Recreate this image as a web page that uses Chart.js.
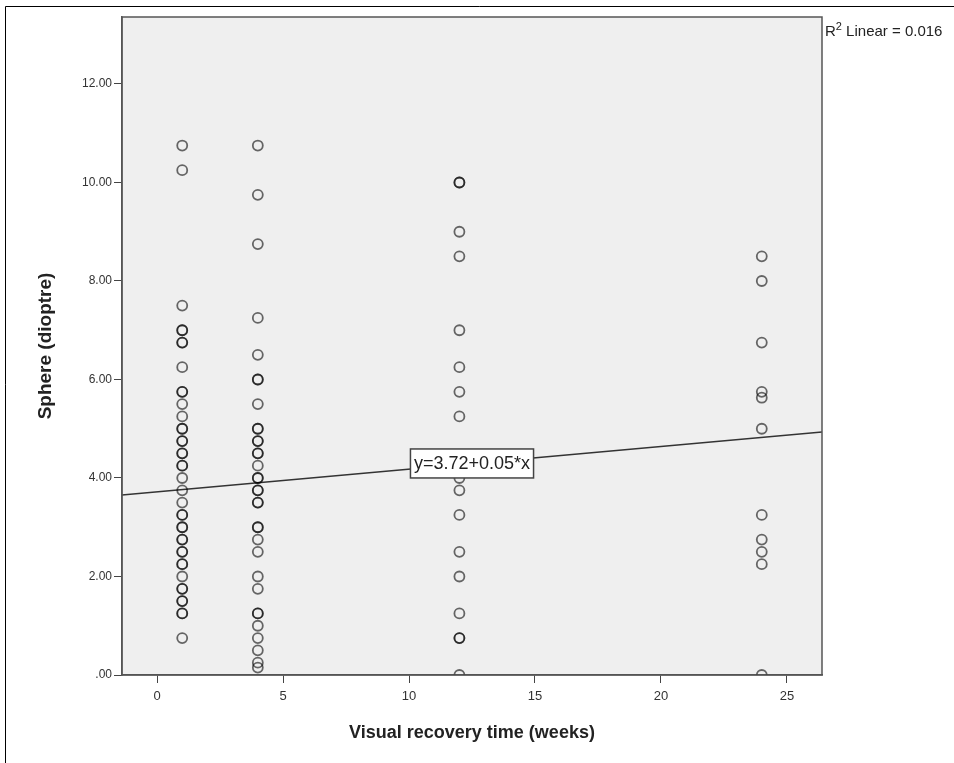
<!DOCTYPE html>
<html><head><meta charset="utf-8">
<script src="https://cdn.jsdelivr.net/npm/chart.js@4"></script>
<style>html,body{margin:0;padding:0;background:#fff;}#wrap{position:relative;width:954px;height:763px;}</style>
</head><body><div id="wrap"><canvas id="c" width="954" height="763" style="width:954px;height:763px"></canvas></div>
<script>
// Visual recovery time groups (weeks)
const weeks = [1, 4, 12, 24];
// Sphere (dioptre) values per group (duplicates = overlapping darker rings)
const sphereWeek1 = [10.75, 10.25, 7.5, 7.0, 7.0, 6.75, 6.75, 6.25, 5.75, 5.75, 5.5, 5.25, 5.0, 5.0, 4.75, 4.75, 4.5, 4.5, 4.25, 4.25, 4.0, 3.75, 3.5, 3.25, 3.25, 3.0, 3.0, 2.75, 2.75, 2.5, 2.5, 2.25, 2.25, 2.0, 1.75, 1.75, 1.5, 1.5, 1.25, 1.25, 0.75];
const sphereWeek4 = [10.75, 9.75, 8.75, 7.25, 6.5, 6.0, 6.0, 5.5, 5.0, 5.0, 4.75, 4.75, 4.5, 4.5, 4.25, 4.0, 4.0, 3.75, 3.75, 3.5, 3.5, 3.0, 3.0, 2.75, 2.5, 2.0, 1.75, 1.25, 1.25, 1.0, 0.75, 0.5, 0.25, 0.15];
const sphereWeek12 = [10.0, 10.0, 9.0, 8.5, 7.0, 6.25, 5.75, 5.25, 4.0, 3.75, 3.25, 2.5, 2.0, 1.25, 0.75, 0.75, 0.0];
const sphereWeek24 = [8.5, 8.0, 6.75, 5.75, 5.63, 5.0, 3.25, 2.75, 2.5, 2.25, 0.0];
const sphereByWeek = [sphereWeek1, sphereWeek4, sphereWeek12, sphereWeek24];

// Fit line (R2 Linear = 0.016)
const fitIntercept = 3.72;
const fitSlope = 0.046;
const fitLabel = 'y=3.72+0.05*x';
const r2Label = ' Linear = 0.016';

// Axes
const xTicks = [0, 5, 10, 15, 20, 25];
const yTicks = [0, 2, 4, 6, 8, 10, 12];
const yTickLabels = ['.00', '2.00', '4.00', '6.00', '8.00', '10.00', '12.00'];
const xMin = -1.39, xMax = 26.39, yMin = 0, yMax = 13.36;
const xTitle = 'Visual recovery time (weeks)';
const yTitle = 'Sphere (dioptre)';

const FONT = "'Liberation Sans', Arial, sans-serif";

const points = [];
weeks.forEach((w, i) => sphereByWeek[i].forEach(v => points.push({x: w, y: v})));
const fitData = [xMin, xMax].map(x => ({x: x, y: fitIntercept + fitSlope * x}));

const decor = {
  id: 'decor',
  beforeDraw(chart) {
    const {ctx, chartArea: a} = chart;
    ctx.save();
    ctx.fillStyle = '#ffffff';
    ctx.fillRect(0, 0, chart.width, chart.height);
    ctx.fillStyle = '#efefef';
    ctx.fillRect(a.left, a.top, a.right - a.left, a.bottom - a.top);
    ctx.restore();
  },
  afterDatasetsDraw(chart) {
    const {ctx, chartArea: a, scales} = chart;
    ctx.save();
    ctx.strokeStyle = '#555';
    ctx.lineWidth = 1.5;
    ctx.strokeRect(a.left, a.top, a.right - a.left, a.bottom - a.top);
    ctx.strokeStyle = '#000';
    ctx.lineWidth = 1;
    ctx.beginPath();
    ctx.moveTo(5.5, chart.height);
    ctx.lineTo(5.5, 6.5);
    ctx.lineTo(chart.width, 6.5);
    ctx.stroke();
    const cx = (a.left + a.right) / 2;
    const xv = scales.x.getValueForPixel(cx);
    const cy = scales.y.getPixelForValue(fitIntercept + fitSlope * xv);
    ctx.font = '18px ' + FONT;
    const tw = ctx.measureText(fitLabel).width;
    const bw = tw + 7, bh = 29;
    ctx.fillStyle = '#fff';
    ctx.fillRect(cx - bw / 2, cy - bh / 2, bw, bh);
    ctx.strokeStyle = '#444';
    ctx.lineWidth = 1.5;
    ctx.strokeRect(cx - bw / 2, cy - bh / 2, bw, bh);
    ctx.fillStyle = '#222';
    ctx.textAlign = 'center';
    ctx.textBaseline = 'middle';
    ctx.fillText(fitLabel, cx, cy + 1);
    ctx.textAlign = 'left';
    ctx.textBaseline = 'alphabetic';
    ctx.fillStyle = '#222';
    ctx.font = '15px ' + FONT;
    const rx = a.right + 3, ry = a.top + 19;
    ctx.fillText('R', rx, ry);
    const rw = ctx.measureText('R').width;
    ctx.font = '11px ' + FONT;
    ctx.fillText('2', rx + rw, ry - 6);
    const sw = ctx.measureText('2').width;
    ctx.font = '15px ' + FONT;
    ctx.fillText(r2Label, rx + rw + sw, ry);
    ctx.restore();
  }
};

new Chart(document.getElementById('c'), {
  type: 'scatter',
  data: {
    datasets: [
      {
        type: 'scatter',
        data: points,
        pointStyle: 'circle',
        pointRadius: 5,
        pointHoverRadius: 5,
        borderWidth: 1.8,
        borderColor: 'rgba(0,0,0,0.58)',
        backgroundColor: 'rgba(0,0,0,0)',
        clip: 0
      },
      {
        type: 'line',
        data: fitData,
        borderColor: '#333',
        borderWidth: 1.5,
        pointRadius: 0,
        fill: false,
        clip: 0
      }
    ]
  },
  options: {
    responsive: false,
    animation: false,
    layout: {padding: {top: 17, right: 132, left: 0, bottom: 0}},
    plugins: {legend: {display: false}, tooltip: {enabled: false}},
    scales: {
      x: {
        type: 'linear', min: xMin, max: xMax,
        afterBuildTicks(s) { s.ticks = xTicks.map(v => ({value: v})); },
        afterFit(s) { s.height = 88; },
        grid: {drawOnChartArea: false, drawTicks: true, tickLength: 8, tickColor: '#444', tickWidth: 1},
        border: {display: true, color: '#555', width: 1.5},
        ticks: {color: '#333', font: {family: FONT, size: 13}, padding: 6, maxRotation: 0, autoSkip: false},
        title: {display: true, text: xTitle, color: '#222', font: {family: FONT, size: 18, weight: 'bold'}, padding: {top: 0, bottom: 19}}
      },
      y: {
        type: 'linear', min: yMin, max: yMax,
        afterBuildTicks(s) { s.ticks = yTicks.map(v => ({value: v})); },
        afterFit(s) { s.width = 122; },
        grid: {drawOnChartArea: false, drawTicks: true, tickLength: 8, tickColor: '#444', tickWidth: 1},
        border: {display: true, color: '#555', width: 1.5},
        ticks: {color: '#333', font: {family: FONT, size: 12}, padding: 2, autoSkip: false,
          callback: (v) => { const i = yTicks.indexOf(v); return i >= 0 ? yTickLabels[i] : ''; }},
        title: {display: true, text: yTitle, color: '#222', font: {family: FONT, size: 19, weight: 'bold'}, padding: {top: 34, bottom: 0}}
      }
    }
  },
  plugins: [decor]
});
</script></body></html>
